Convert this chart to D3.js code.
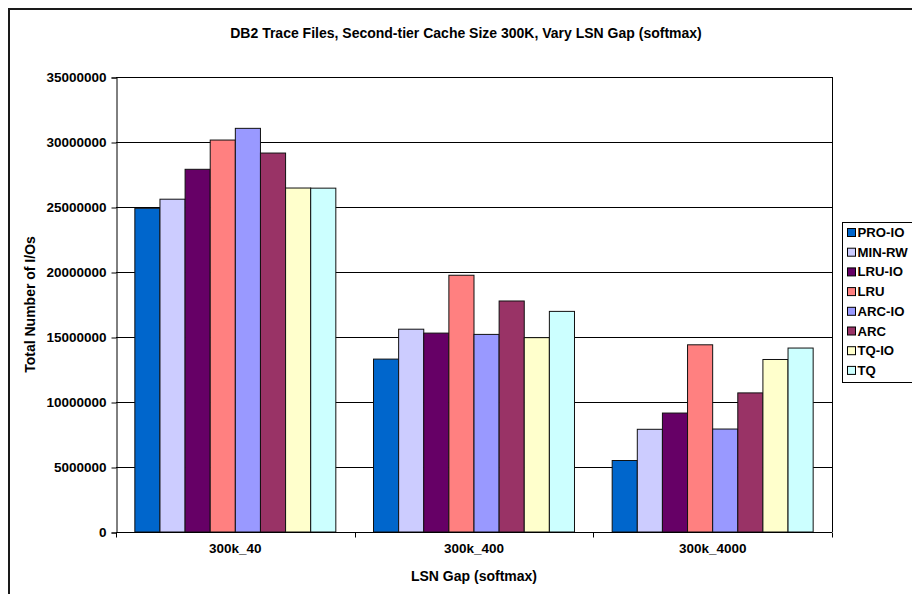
<!DOCTYPE html>
<html>
<head>
<meta charset="utf-8">
<script src="https://cdn.jsdelivr.net/npm/d3@7/dist/d3.min.js"></script>
<style>
  html, body { margin: 0; padding: 0; background: #fff; }
  svg { display: block; font-family: Arial, "Liberation Sans", sans-serif; font-weight: bold; }
</style>
</head>
<body>
<svg id="chart" width="912" height="594"></svg>
<script>
// Total I/Os per LSN gap setting for each replacement policy
const categories = ["300k_40", "300k_400", "300k_4000"];
const seriesNames = ["PRO-IO", "MIN-RW", "LRU-IO", "LRU", "ARC-IO", "ARC", "TQ-IO", "TQ"];
const seriesColors = ["#0066CC", "#CCCCFF", "#660066", "#FF8080", "#9999FF", "#993366", "#FFFFCC", "#CCFFFF"];
const proIO = [24900000, 13300000, 5500000];
const minRW = [25600000, 15600000, 7900000];
const lruIO = [27900000, 15300000, 9150000];
const lru   = [30150000, 19750000, 14400000];
const arcIO = [31050000, 15200000, 7920000];
const arc   = [29150000, 17770000, 10700000];
const tqIO  = [26460000, 14950000, 13270000];
const tq    = [26450000, 16970000, 14150000];
const yTicks = [0, 5000000, 10000000, 15000000, 20000000, 25000000, 30000000, 35000000];

const seriesValues = [proIO, minRW, lruIO, lru, arcIO, arc, tqIO, tq];

const svg = d3.select("#chart");

// outer chart frame
svg.append("rect")
  .attr("x", 9).attr("y", 9).attr("width", 1000).attr("height", 1000)
  .attr("fill", "none").attr("stroke", "#1a1a1a").attr("stroke-width", 2);

const plot = { left: 116, right: 832, top: 77, bottom: 532 };

const x = d3.scaleBand().domain(categories).range([plot.left, plot.right]).paddingInner(0).paddingOuter(0);
const y = d3.scaleLinear().domain([0, 35000000]).range([plot.bottom, plot.top]);

// each group: 8 bars plus a gap of 1.5 bar widths
const barW = x.bandwidth() / 9.5;
const inner = d3.scaleBand().domain(seriesNames)
  .range([barW * 0.75, barW * 8.75]).padding(0);

// horizontal gridlines
svg.append("g").selectAll("line").data(yTicks.slice(1)).join("line")
  .attr("x1", plot.left).attr("x2", plot.right)
  .attr("y1", d => Math.round(y(d)) + 0.5).attr("y2", d => Math.round(y(d)) + 0.5)
  .attr("stroke", "#000").attr("stroke-width", 1);

// right border of the plot area
svg.append("line")
  .attr("x1", plot.right + 0.5).attr("x2", plot.right + 0.5)
  .attr("y1", plot.top).attr("y2", plot.bottom)
  .attr("stroke", "#000");

// bars
const groups = svg.append("g").selectAll("g").data(categories).join("g")
  .attr("transform", c => `translate(${x(c)},0)`);
groups.selectAll("rect")
  .data((c, ci) => seriesNames.map((s, si) => ({ s, si, v: seriesValues[si][ci] })))
  .join("rect")
  .attr("x", d => inner(d.s))
  .attr("width", inner.bandwidth())
  .attr("y", d => y(d.v))
  .attr("height", d => y(0) - y(d.v))
  .attr("fill", d => seriesColors[d.si])
  .attr("stroke", "#111").attr("stroke-width", 1);

// y axis
const yAxis = d3.axisLeft(y).tickValues(yTicks).tickFormat(d3.format("d")).tickSize(5).tickPadding(5);
const gy = svg.append("g").attr("transform", `translate(${plot.left + 0.5},0.5)`).call(yAxis);
gy.select(".domain").attr("stroke", "#000");
gy.selectAll(".tick line").attr("stroke", "#000");
gy.selectAll(".tick text").attr("font-size", 13.5).attr("font-weight", "bold").attr("fill", "#000")
  .attr("font-family", "Arial, 'Liberation Sans', sans-serif");

// x axis with ticks at category boundaries
const gx = svg.append("g").attr("transform", `translate(0,${plot.bottom + 0.5})`);
gx.append("line").attr("x1", plot.left).attr("x2", plot.right).attr("stroke", "#000");
gx.selectAll(".bound").data(categories.concat(["end"])).join("line")
  .attr("class", "bound")
  .attr("x1", (c, i) => Math.round(plot.left + i * x.bandwidth()) + 0.5)
  .attr("x2", (c, i) => Math.round(plot.left + i * x.bandwidth()) + 0.5)
  .attr("y1", 0).attr("y2", 5).attr("stroke", "#000");
gx.selectAll("text").data(categories).join("text")
  .attr("x", c => x(c) + x.bandwidth() / 2)
  .attr("y", 20)
  .attr("text-anchor", "middle")
  .attr("font-size", 13.5)
  .text(c => c);

// titles
svg.append("text").attr("x", 466).attr("y", 38).attr("text-anchor", "middle")
  .attr("font-size", 14).text("DB2 Trace Files, Second-tier Cache Size 300K, Vary LSN Gap (softmax)");
svg.append("text").attr("x", 474).attr("y", 581).attr("text-anchor", "middle")
  .attr("font-size", 14).text("LSN Gap (softmax)");
svg.append("text")
  .attr("transform", `translate(35,${(plot.top + plot.bottom) / 2}) rotate(-90)`)
  .attr("text-anchor", "middle")
  .attr("font-size", 14).text("Total Number of I/Os");

// legend
const legend = svg.append("g").attr("transform", "translate(842,222)");
legend.append("rect").attr("x", 0.5).attr("y", 0.5).attr("width", 120).attr("height", 160)
  .attr("fill", "#fff").attr("stroke", "#000");
const items = legend.selectAll("g.item").data(seriesNames).join("g")
  .attr("class", "item")
  .attr("transform", (d, i) => `translate(0,${10 + i * 19.7})`);
items.append("rect").attr("x", 5.5).attr("y", -3.5).attr("width", 8).attr("height", 8)
  .attr("fill", (d, i) => seriesColors[i]).attr("stroke", "#000");
items.append("text").attr("x", 15.5).attr("y", 5).attr("font-size", 13.2).text(d => d);
</script>
</body>
</html>
